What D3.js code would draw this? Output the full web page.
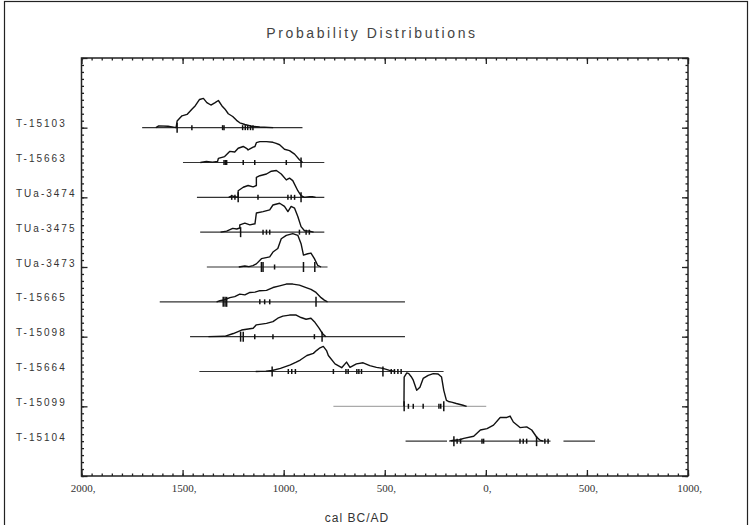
<!DOCTYPE html>
<html>
<head>
  <meta charset="utf-8">
  <script src="https://cdn.jsdelivr.net/npm/d3@7"></script>
  <style>
    body { margin: 0; background: #fff; }
    text { font-family: "Liberation Sans", Arial, sans-serif; }
  </style>
</head>
<body>
<script>
  // sample names, top to bottom
  var samples = ["T-15103", "T-15663", "TUa-3474", "TUa-3475", "TUa-3473",
                 "T-15665", "T-15098", "T-15664", "T-15099", "T-15104"];

  // extent of the horizontal range line (cal years, BC negative)
  var spans = [
    [[-1700, -907]],
    [[-1498, -799]],
    [[-1429, -799]],
    [[-1413, -799]],
    [[-1380, -783]],
    [[-1613, -400]],
    [[-1463, -400]],
    [[-1417, -209]],
    [[-754, 2]],
    [[-397, -192], [-172, 320], [384, 540]]
  ];

  // probability curves: [year, relative density %]
  var curves = [
    [[-1632,0],[-1618,5],[-1572,4],[-1532,0],[-1527,19],[-1503,34],[-1478,38],[-1454,53],[-1437,63],[-1416,81],[-1397,84],[-1380,72],[-1360,65],[-1339,72],[-1323,78],[-1306,63],[-1290,53],[-1274,40],[-1252,32],[-1233,21],[-1217,14],[-1192,9],[-1159,4],[-1118,2],[-1052,0]],
    [[-1412,0],[-1382,3],[-1352,1],[-1327,3],[-1323,12],[-1292,17],[-1266,32],[-1242,30],[-1225,41],[-1200,46],[-1182,40],[-1176,36],[-1151,44],[-1142,46],[-1135,57],[-1118,60],[-1085,60],[-1053,58],[-1037,55],[-1020,51],[-996,38],[-971,34],[-946,24],[-922,8],[-906,0]],
    [[-1272,0],[-1257,4],[-1242,2],[-1225,0],[-1225,19],[-1200,29],[-1176,34],[-1151,30],[-1135,34],[-1135,57],[-1118,62],[-1085,67],[-1061,75],[-1036,77],[-1012,67],[-987,50],[-971,55],[-955,48],[-930,19],[-914,5],[-897,0],[-872,2],[-858,2],[-842,0]],
    [[-1312,0],[-1282,3],[-1252,11],[-1232,9],[-1217,12],[-1217,21],[-1192,26],[-1167,21],[-1142,24],[-1135,55],[-1102,59],[-1069,64],[-1053,78],[-1020,83],[-996,74],[-979,59],[-963,74],[-946,69],[-930,45],[-914,16],[-897,4],[-872,3],[-852,0]],
    [[-1222,0],[-1192,3],[-1172,1],[-1152,4],[-1135,9],[-1110,24],[-1069,29],[-1053,43],[-1029,53],[-1012,81],[-987,91],[-955,96],[-930,91],[-914,67],[-902,34],[-881,38],[-865,40],[-848,24],[-832,5],[-815,0]],
    [[-1332,0],[-1315,3],[-1292,6],[-1266,12],[-1242,15],[-1217,22],[-1192,20],[-1167,27],[-1142,28],[-1118,32],[-1085,33],[-1053,41],[-1020,46],[-987,51],[-955,51],[-922,48],[-889,41],[-865,36],[-840,27],[-815,12],[-799,5],[-783,0]],
    [[-1372,0],[-1292,1],[-1249,9],[-1208,19],[-1151,24],[-1135,34],[-1085,38],[-1053,43],[-1029,53],[-1004,59],[-971,62],[-938,62],[-914,55],[-889,50],[-865,53],[-848,43],[-824,24],[-807,8],[-791,0]],
    [[-1138,0],[-1088,1],[-1057,3],[-1016,9],[-967,19],[-938,27],[-918,33],[-885,46],[-853,52],[-838,60],[-820,68],[-804,72],[-788,60],[-779,46],[-746,22],[-713,11],[-689,27],[-672,12],[-640,22],[-607,25],[-574,17],[-541,12],[-509,9],[-476,3],[-448,0]],
    [[-405,0],[-404,84],[-391,96],[-381,94],[-369,85],[-359,75],[-342,46],[-326,55],[-310,80],[-285,89],[-260,94],[-236,93],[-219,84],[-208,46],[-195,17],[-185,14],[-170,12],[-146,8],[-113,3],[-95,0]],
    [[-181,0],[-166,2],[-131,4],[-109,8],[-60,14],[-27,32],[6,36],[38,46],[71,68],[104,68],[120,72],[136,55],[169,39],[202,41],[227,32],[251,12],[267,3],[284,0]]
  ];

  // small marks on the range line
  var ticks = [
    [-1454, -1302, -1295, -1203, -1190, -1178, -1164, -1152],
    [-1295, -1288, -1282, -1200, -1143, -987],
    [-1257, -1241, -1127, -979, -963, -946],
    [-1102, -1085, -1069, -922, -889, -873],
    [-1045],
    [-1118, -1094, -1069],
    [-1143, -1053, -848],
    [-977, -960, -942, -754, -692, -681, -638, -628, -615, -468, -452, -435, -419],
    [-383, -359, -310, -232, -223],
    [-142, -125, -19, -11, 169, 185, 202, 292, 308]
  ];
  // taller marks (range limits)
  var bounds = [
    [-1527],
    [-914],
    [-1225, -914],
    [-1213],
    [-1110, -1102, -902, -846],
    [-1299, -1290, -1282, -840],
    [-1213, -1200, -810],
    [-1057, -509],
    [-404, -208],
    [-158, 251]
  ];

  // faint range lines
  var faded = ["T-15099"];

  var xMajor = d3.range(-2000, 1001, 500);
  var xMinor = d3.range(-2000, 1001, 50);
  var yMajor = d3.range(0, 12.1, 2);
  var yMinor = d3.range(0, 12.05, 0.2);

  (function() {
    var W = 753, H = 525;
    var pL = 81.5, pR = 688, pT = 58, pB = 476;

    var svg = d3.select("body").append("svg")
      .attr("width", W).attr("height", H);

    // outer border of the picture
    svg.append("rect")
      .attr("x", 4.5).attr("y", 1.5)
      .attr("width", 743).attr("height", 540)
      .attr("fill", "none").attr("stroke", "#222").attr("stroke-width", 1.2);

    var x = d3.scaleLinear().domain([-2000, 1000]).range([pL, pR]);
    var y = d3.scaleLinear().domain([0, 12]).range([pB, pT]);
    var rowIdx = function(i) { return samples.length - i; };

    svg.append("text")
      .attr("x", 372).attr("y", 38)
      .attr("text-anchor", "middle")
      .style("font-size", "14px")
      .style("letter-spacing", "2.6px")
      .style("fill", "#444")
      .text("Probability Distributions");

    // axes (ticks pointing inwards)
    var fmt = function(d) { return Math.abs(d) + ","; };
    function addAxis(gen, tx, ty, vals, size, labels) {
      var g = svg.append("g")
        .attr("transform", "translate(" + tx + "," + ty + ")")
        .call(gen.tickValues(vals).tickSize(size).tickFormat(labels ? fmt : ""));
      g.select(".domain").remove();
      g.selectAll("line").attr("stroke", "#222").attr("stroke-width", 1.3);
      return g;
    }
    addAxis(d3.axisBottom(x), 0, pB, xMinor, -2.5, false);
    var xb = addAxis(d3.axisBottom(x), 0, pB, xMajor, -6, true);
    xb.selectAll("text")
      .attr("y", 8).attr("dx", 1)
      .style("font-size", "11px").style("fill", "#333")
      .style("font-family", "'Liberation Serif', serif");
    addAxis(d3.axisTop(x), 0, pT, xMinor, -2.5, false);
    addAxis(d3.axisTop(x), 0, pT, xMajor, -6, false);

    addAxis(d3.axisLeft(y), pL, 0, yMinor, -2.5, false);
    addAxis(d3.axisLeft(y), pL, 0, yMajor, -6, false);
    addAxis(d3.axisRight(y), pR, 0, yMinor, -2.5, false);
    addAxis(d3.axisRight(y), pR, 0, yMajor, -6, false);

    svg.append("rect")
      .attr("x", pL).attr("y", pT)
      .attr("width", pR - pL).attr("height", pB - pT)
      .attr("fill", "none").attr("stroke", "#222").attr("stroke-width", 1.5);

    // sample labels
    svg.selectAll(".lab").data(samples).enter().append("text")
      .attr("class", "lab")
      .attr("x", 16)
      .attr("y", function(d, i) { return y(rowIdx(i)) - 0.5; })
      .style("font-size", "10px")
      .style("letter-spacing", "2px")
      .style("fill", "#333")
      .text(function(d) { return d; });

    var line = d3.line()
      .x(function(d) { return x(d[0]); });

    samples.forEach(function(name, i) {
      var k = rowIdx(i), y0 = y(k);
      var g = svg.append("g");
      var fade = faded.indexOf(name) >= 0;

      spans[i].forEach(function(s) {
        g.append("line")
          .attr("x1", x(s[0])).attr("x2", x(s[1]))
          .attr("y1", y0).attr("y2", y0)
          .attr("stroke", fade ? "#aaa" : "#333")
          .attr("stroke-width", 1.2);
      });

      g.append("path")
        .datum(curves[i])
        .attr("d", line.y(function(d) { return y(k + d[1] / 100); }))
        .attr("fill", "none")
        .attr("stroke", "#111")
        .attr("stroke-width", 1.4)
        .attr("stroke-linejoin", "round");

      g.selectAll(".tk").data(ticks[i]).enter().append("line")
        .attr("x1", function(d) { return x(d); }).attr("x2", function(d) { return x(d); })
        .attr("y1", y0 - 2.5).attr("y2", y0 + 2.5)
        .attr("stroke", "#111").attr("stroke-width", 1.5);

      g.selectAll(".bd").data(bounds[i]).enter().append("line")
        .attr("x1", function(d) { return x(d); }).attr("x2", function(d) { return x(d); })
        .attr("y1", y0 - 5).attr("y2", y0 + 5)
        .attr("stroke", "#111").attr("stroke-width", 1.5);
    });

    svg.append("text")
      .attr("x", 357).attr("y", 522)
      .attr("text-anchor", "middle")
      .style("font-size", "12px")
      .style("letter-spacing", "1px")
      .style("fill", "#333")
      .text("cal BC/AD");
  })();
</script>
</body>
</html>
